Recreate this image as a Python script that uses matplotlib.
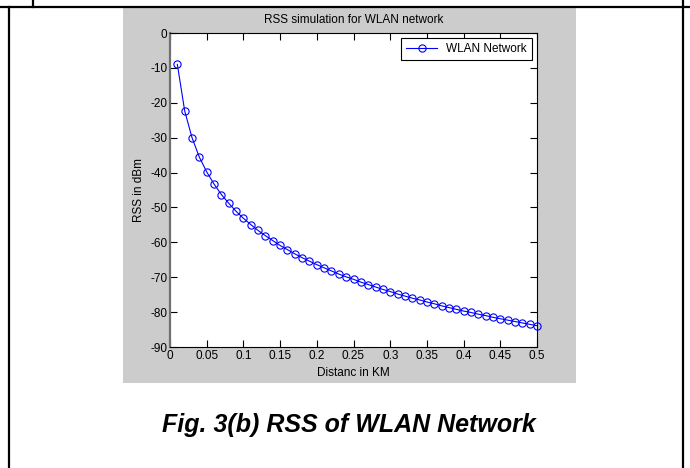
import matplotlib
matplotlib.use("Agg")
import matplotlib.pyplot as plt
from matplotlib.patches import Rectangle
from matplotlib.lines import Line2D

plt.rcParams['font.family'] = ['Liberation Sans', 'DejaVu Sans']
plt.rcParams['axes.unicode_minus'] = False

distance_km = [0.01, 0.02, 0.03, 0.04, 0.05, 0.06, 0.07, 0.08, 0.09, 0.10,
               0.11, 0.12, 0.13, 0.14, 0.15, 0.16, 0.17, 0.18, 0.19, 0.20,
               0.21, 0.22, 0.23, 0.24, 0.25, 0.26, 0.27, 0.28, 0.29, 0.30,
               0.31, 0.32, 0.33, 0.34, 0.35, 0.36, 0.37, 0.38, 0.39, 0.40,
               0.41, 0.42, 0.43, 0.44, 0.45, 0.46, 0.47, 0.48, 0.49, 0.50]
rss_dbm = [-9.0, -22.3, -30.0, -35.6, -39.8, -43.3, -46.3, -48.8, -51.1, -53.1,
           -54.9, -56.6, -58.1, -59.5, -60.9, -62.1, -63.3, -64.4, -65.4, -66.4,
           -67.3, -68.2, -69.1, -69.9, -70.6, -71.4, -72.1, -72.8, -73.5, -74.1,
           -74.8, -75.4, -76.0, -76.5, -77.1, -77.6, -78.2, -78.7, -79.2, -79.7,
           -80.1, -80.6, -81.0, -81.5, -81.9, -82.3, -82.7, -83.1, -83.5, -83.9]
x_ticks = [0, 0.05, 0.1, 0.15, 0.2, 0.25, 0.3, 0.35, 0.4, 0.45, 0.5]
x_ticklabels = ["0", "0.05", "0.1", "0.15", "0.2", "0.25", "0.3", "0.35", "0.4", "0.45", "0.5"]
y_ticks = [0, -10, -20, -30, -40, -50, -60, -70, -80, -90]

W, H = 690, 468
fig = plt.figure(figsize=(W / 100, H / 100), dpi=100)
fig.patch.set_facecolor('white')

# gray MATLAB figure background
fig.patches.append(Rectangle((123 / W, 1 - 383 / H), (576 - 123) / W, (383 - 8) / H,
                             transform=fig.transFigure, facecolor='#cccccc',
                             edgecolor='none', zorder=-5))
# page border lines
fig.lines.append(Line2D([0, 1], [1 - 7 / H, 1 - 7 / H], transform=fig.transFigure,
                        color='black', lw=1.6, zorder=-4))
fig.lines.append(Line2D([9 / W, 9 / W], [0, 1 - 7 / H], transform=fig.transFigure,
                        color='black', lw=1.6, zorder=-4))
fig.lines.append(Line2D([683 / W, 683 / W], [0, 1], transform=fig.transFigure,
                        color='black', lw=1.6, zorder=-4))
fig.lines.append(Line2D([33 / W, 33 / W], [1 - 7 / H, 1], transform=fig.transFigure,
                        color='black', lw=1.6, zorder=-4))

ax = fig.add_axes([170 / W, 1 - 347 / H, (537 - 170) / W, (347 - 33) / H])
ax.set_zorder(1)
ax.set_facecolor('white')
ax.plot(distance_km, rss_dbm, color='#0000ff', lw=0.8, marker='o', markersize=5.2,
        markerfacecolor='none', markeredgecolor='#0000ff', markeredgewidth=0.8,
        label='WLAN Network', clip_on=False, zorder=3)
ax.set_xlim(0, 0.5)
ax.set_ylim(-90, 0)
ax.set_xticks(x_ticks)
ax.set_xticklabels(x_ticklabels)
ax.set_yticks(y_ticks)
ax.set_yticklabels([str(v) for v in y_ticks])
ax.tick_params(direction='in', length=5, width=0.8, top=True, right=True,
               labelsize=8.5, pad=2, colors='black')
for s in ax.spines.values():
    s.set_linewidth(0.8)
    s.set_color('black')
ax.spines['left'].set_color('#707070')
ax.spines['left'].set_linewidth(1.6)

ax.set_title('RSS simulation for WLAN network', fontsize=8.5, pad=7)
ax.set_xlabel('Distanc in KM', fontsize=8.5, labelpad=4)
ax.set_ylabel('RSS in dBm', fontsize=8.5, labelpad=4)

leg = ax.legend(loc='upper right', fontsize=8.5, fancybox=False, framealpha=1,
                edgecolor='black', handlelength=2.6, borderpad=0.45,
                borderaxespad=0.4)
leg.get_frame().set_linewidth(0.8)

fig.text(349 / W, 1 - 425 / H, 'Fig. 3(b) RSS of WLAN Network', fontsize=18,
         fontweight='bold', fontstyle='italic', ha='center', va='center')

fig.savefig('out.png', dpi=100)
